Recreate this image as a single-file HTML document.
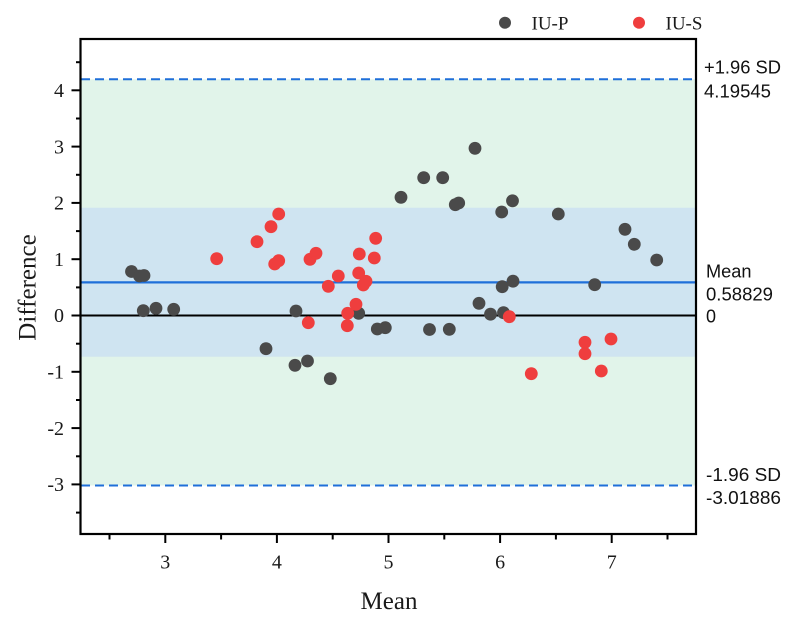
<!DOCTYPE html>
<html>
<head>
<meta charset="utf-8">
<style>
  html, body { margin: 0; padding: 0; background: #ffffff; }
  svg { display: block; }
  .serif { font-family: "Liberation Serif", serif; }
  .sans { font-family: "Liberation Sans", sans-serif; }
</style>
</head>
<body>
<svg width="800" height="632" viewBox="0 0 800 632" xmlns="http://www.w3.org/2000/svg">
  <rect x="0" y="0" width="800" height="632" fill="#ffffff"/>

  <!-- bands -->
  <rect x="81" y="79.3" width="614" height="406.2" fill="#e1f4ea"/>
  <rect x="81" y="207.7" width="614" height="149" fill="#cfe4f1"/>

  <!-- limit lines -->
  <line x1="81" y1="79.3" x2="695" y2="79.3" stroke="#1f6fd9" stroke-width="2" stroke-dasharray="9,5"/>
  <line x1="81" y1="485.5" x2="695" y2="485.5" stroke="#1f6fd9" stroke-width="2" stroke-dasharray="9,5"/>
  <line x1="81" y1="282.4" x2="695" y2="282.4" stroke="#1f6fd9" stroke-width="2.2"/>
  <line x1="81" y1="315.5" x2="695" y2="315.5" stroke="#000000" stroke-width="2"/>

  <!-- gray points -->
  <g fill="#4a4a4a">
    <circle cx="131.5" cy="271.5" r="6.4"/>
    <circle cx="139.5" cy="276" r="6.4"/>
    <circle cx="144" cy="275.5" r="6.4"/>
    <circle cx="143.3" cy="310.7" r="6.4"/>
    <circle cx="156" cy="308.3" r="6.4"/>
    <circle cx="173.7" cy="309.3" r="6.4"/>
    <circle cx="266" cy="348.7" r="6.4"/>
    <circle cx="296" cy="311" r="6.4"/>
    <circle cx="295" cy="365.3" r="6.4"/>
    <circle cx="307.5" cy="361" r="6.4"/>
    <circle cx="330.3" cy="378.7" r="6.4"/>
    <circle cx="358.7" cy="313.3" r="6.4"/>
    <circle cx="377.3" cy="329" r="6.4"/>
    <circle cx="385.3" cy="327.7" r="6.4"/>
    <circle cx="401" cy="197.3" r="6.4"/>
    <circle cx="423.7" cy="177.7" r="6.4"/>
    <circle cx="442.7" cy="177.7" r="6.4"/>
    <circle cx="475" cy="148.3" r="6.4"/>
    <circle cx="455.3" cy="204.7" r="6.4"/>
    <circle cx="458.7" cy="203" r="6.4"/>
    <circle cx="512.5" cy="200.8" r="6.4"/>
    <circle cx="501.7" cy="212" r="6.4"/>
    <circle cx="429.5" cy="329.5" r="6.4"/>
    <circle cx="449.3" cy="329.3" r="6.4"/>
    <circle cx="479" cy="303.3" r="6.4"/>
    <circle cx="490.5" cy="314.2" r="6.4"/>
    <circle cx="503.5" cy="312.7" r="6.4"/>
    <circle cx="502.2" cy="286.7" r="6.4"/>
    <circle cx="513" cy="281.2" r="6.4"/>
    <circle cx="558.3" cy="214" r="6.4"/>
    <circle cx="594.7" cy="284.7" r="6.4"/>
    <circle cx="625" cy="229.3" r="6.4"/>
    <circle cx="634.3" cy="244.3" r="6.4"/>
    <circle cx="656.7" cy="260" r="6.4"/>
  </g>

  <!-- red points -->
  <g fill="#ef3e3e">
    <circle cx="216.7" cy="258.7" r="6.4"/>
    <circle cx="257" cy="241.7" r="6.4"/>
    <circle cx="271" cy="226.7" r="6.4"/>
    <circle cx="278.7" cy="214" r="6.4"/>
    <circle cx="274.7" cy="264" r="6.4"/>
    <circle cx="278.7" cy="260.7" r="6.4"/>
    <circle cx="308.3" cy="322.7" r="6.4"/>
    <circle cx="310" cy="259.3" r="6.4"/>
    <circle cx="316" cy="253.3" r="6.4"/>
    <circle cx="328.3" cy="286.3" r="6.4"/>
    <circle cx="338.3" cy="276" r="6.4"/>
    <circle cx="358.7" cy="273" r="6.4"/>
    <circle cx="366" cy="281.3" r="6.4"/>
    <circle cx="363.3" cy="285" r="6.4"/>
    <circle cx="359.3" cy="254" r="6.4"/>
    <circle cx="374.3" cy="258" r="6.4"/>
    <circle cx="375.7" cy="238.3" r="6.4"/>
    <circle cx="356" cy="304.3" r="6.4"/>
    <circle cx="347.7" cy="313.3" r="6.4"/>
    <circle cx="347.3" cy="325.7" r="6.4"/>
    <circle cx="509.3" cy="316.7" r="6.4"/>
    <circle cx="531.3" cy="373.7" r="6.4"/>
    <circle cx="585" cy="342.3" r="6.4"/>
    <circle cx="585" cy="353.7" r="6.4"/>
    <circle cx="611" cy="339" r="6.4"/>
    <circle cx="601.3" cy="371" r="6.4"/>
  </g>

  <!-- frame -->
  <rect x="80.5" y="39" width="615.5" height="495" fill="none" stroke="#000" stroke-width="2.2"/>

  <!-- y ticks -->
  <g stroke="#000" stroke-width="2">
    <line x1="71.5" y1="90.3" x2="80.5" y2="90.3"/>
    <line x1="71.5" y1="146.6" x2="80.5" y2="146.6"/>
    <line x1="71.5" y1="202.9" x2="80.5" y2="202.9"/>
    <line x1="71.5" y1="259.2" x2="80.5" y2="259.2"/>
    <line x1="71.5" y1="315.5" x2="80.5" y2="315.5"/>
    <line x1="71.5" y1="371.8" x2="80.5" y2="371.8"/>
    <line x1="71.5" y1="428.1" x2="80.5" y2="428.1"/>
    <line x1="71.5" y1="484.4" x2="80.5" y2="484.4"/>
    <line x1="76" y1="62.2" x2="80.5" y2="62.2"/>
    <line x1="76" y1="118.5" x2="80.5" y2="118.5"/>
    <line x1="76" y1="174.8" x2="80.5" y2="174.8"/>
    <line x1="76" y1="231.1" x2="80.5" y2="231.1"/>
    <line x1="76" y1="287.4" x2="80.5" y2="287.4"/>
    <line x1="76" y1="343.7" x2="80.5" y2="343.7"/>
    <line x1="76" y1="400" x2="80.5" y2="400"/>
    <line x1="76" y1="456.3" x2="80.5" y2="456.3"/>
    <line x1="76" y1="512.6" x2="80.5" y2="512.6"/>
  </g>

  <!-- x ticks -->
  <g stroke="#000" stroke-width="2">
    <line x1="165.3" y1="534" x2="165.3" y2="543"/>
    <line x1="276.9" y1="534" x2="276.9" y2="543"/>
    <line x1="388.5" y1="534" x2="388.5" y2="543"/>
    <line x1="500.1" y1="534" x2="500.1" y2="543"/>
    <line x1="611.7" y1="534" x2="611.7" y2="543"/>
    <line x1="109.5" y1="534" x2="109.5" y2="539.5"/>
    <line x1="221.1" y1="534" x2="221.1" y2="539.5"/>
    <line x1="332.7" y1="534" x2="332.7" y2="539.5"/>
    <line x1="444.3" y1="534" x2="444.3" y2="539.5"/>
    <line x1="555.9" y1="534" x2="555.9" y2="539.5"/>
    <line x1="667.5" y1="534" x2="667.5" y2="539.5"/>
  </g>

  <!-- y tick labels -->
  <g class="serif" font-size="20" fill="#1a1a1a" text-anchor="end">
    <text x="64" y="97">4</text>
    <text x="64" y="153.3">3</text>
    <text x="64" y="209.6">2</text>
    <text x="64" y="265.9">1</text>
    <text x="64" y="322.2">0</text>
    <text x="64" y="378.5">-1</text>
    <text x="64" y="434.8">-2</text>
    <text x="64" y="491.1">-3</text>
  </g>

  <!-- x tick labels -->
  <g class="serif" font-size="20" fill="#1a1a1a" text-anchor="middle">
    <text x="165.3" y="568.5">3</text>
    <text x="276.9" y="568.5">4</text>
    <text x="388.5" y="568.5">5</text>
    <text x="500.1" y="568.5">6</text>
    <text x="611.7" y="568.5">7</text>
  </g>

  <!-- axis titles -->
  <text class="serif" x="389" y="609" font-size="25" fill="#1a1a1a" text-anchor="middle">Mean</text>
  <text class="serif" transform="translate(35.5,287.5) rotate(-90)" x="0" y="0" font-size="25" fill="#1a1a1a" text-anchor="middle">Difference</text>

  <!-- right labels -->
  <g class="sans" font-size="18" fill="#111">
    <text x="704" y="73.5" textLength="77" lengthAdjust="spacingAndGlyphs">+1.96 SD</text>
    <text x="704" y="97.5" textLength="67" lengthAdjust="spacingAndGlyphs">4.19545</text>
    <text x="706" y="277.3" textLength="45.5" lengthAdjust="spacingAndGlyphs">Mean</text>
    <text x="706" y="300.7" textLength="67" lengthAdjust="spacingAndGlyphs">0.58829</text>
    <text x="706" y="322.7">0</text>
    <text x="706" y="481" textLength="75" lengthAdjust="spacingAndGlyphs">-1.96 SD</text>
    <text x="706" y="504" textLength="75" lengthAdjust="spacingAndGlyphs">-3.01886</text>
  </g>

  <!-- legend -->
  <circle cx="505" cy="22.7" r="6" fill="#4a4a4a"/>
  <text class="serif" x="531.5" y="29.3" font-size="19" fill="#1a1a1a">IU-P</text>
  <circle cx="639" cy="22.7" r="6" fill="#ef3e3e"/>
  <text class="serif" x="665.5" y="29.3" font-size="19" fill="#1a1a1a">IU-S</text>
</svg>
</body>
</html>
